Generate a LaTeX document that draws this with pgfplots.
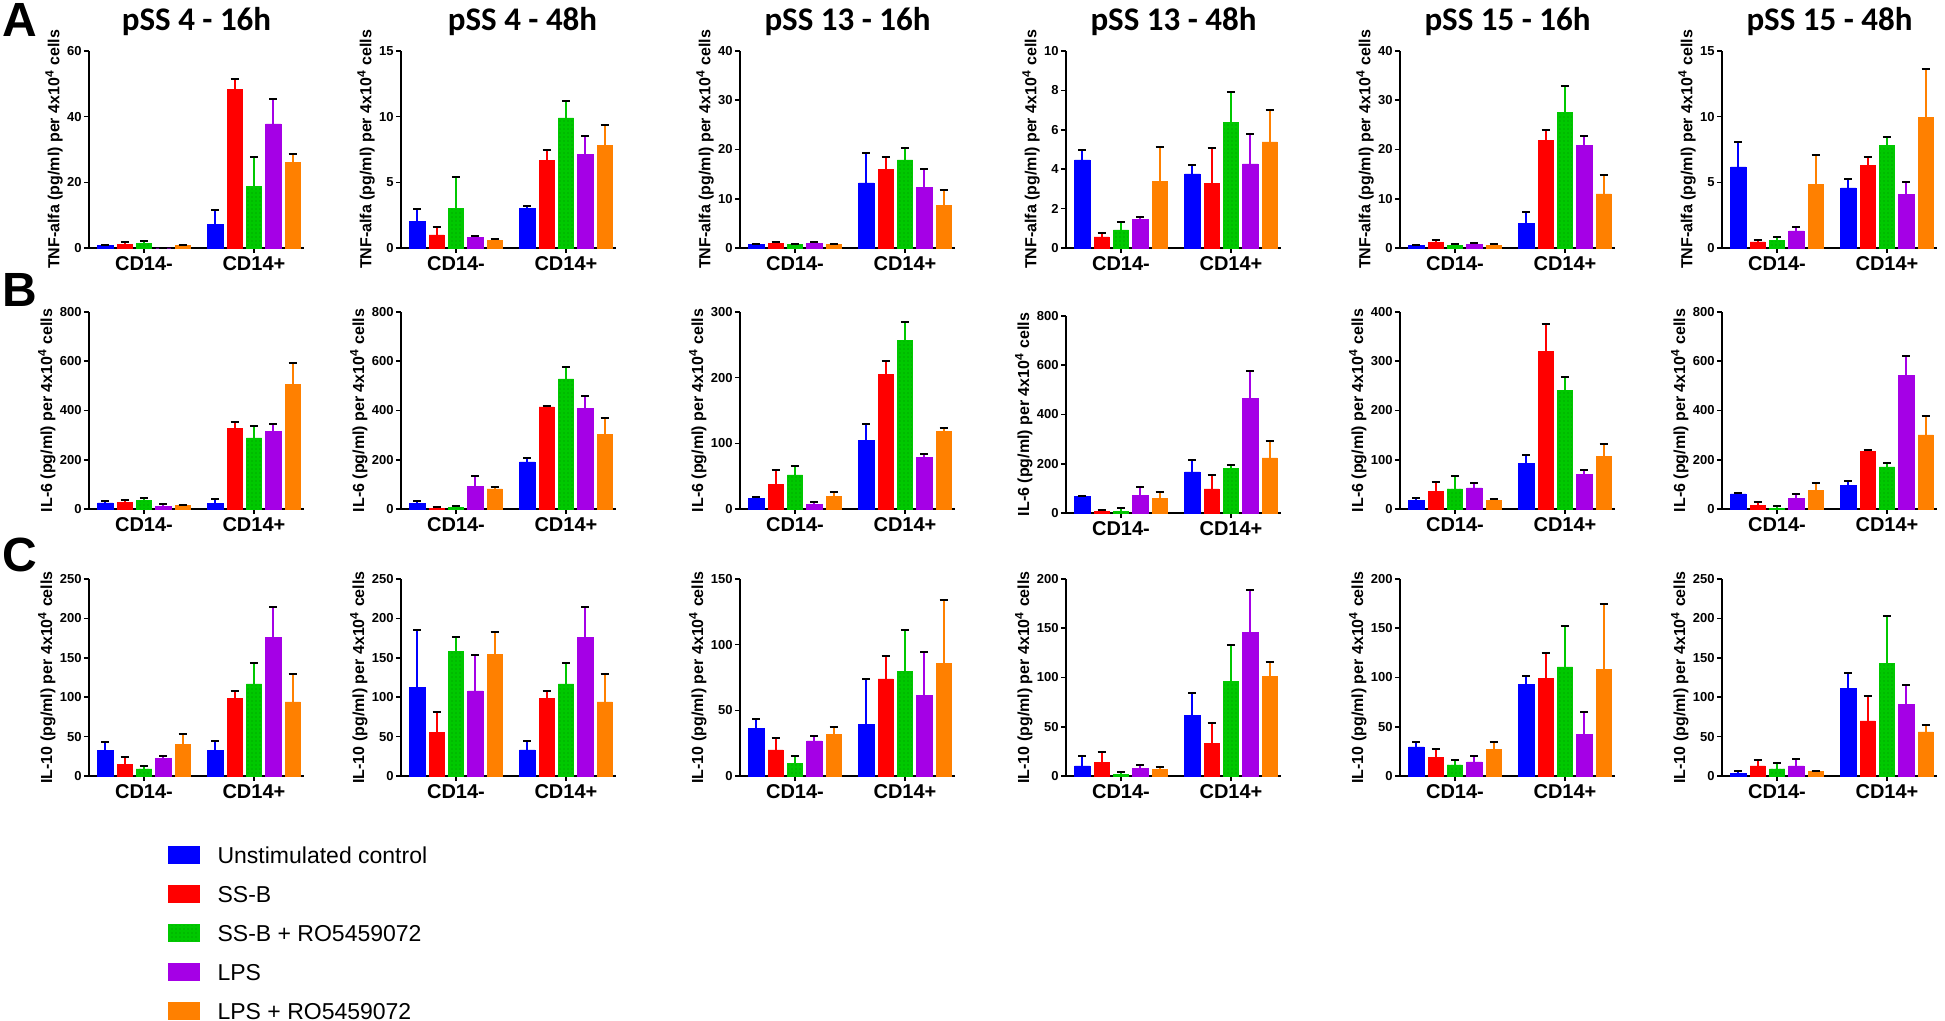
\documentclass[border=0pt]{standalone}
\usepackage{pgfplots}
\pgfplotsset{compat=1.18}
\usepackage{pgfplotstable}
\usetikzlibrary{patterns.meta}
\usepackage{fontspec}
\setmainfont{Liberation Sans}
\newfontfamily\titlefont{Carlito}

\definecolor{cB}{RGB}{0,0,255}
\definecolor{cR}{RGB}{255,0,0}
\definecolor{cG}{RGB}{0,200,0}
\definecolor{cGd}{RGB}{0,140,0}
\definecolor{cP}{RGB}{165,0,230}
\definecolor{cO}{RGB}{255,128,0}

\def\tnf{TNF-alfa (pg/ml) per 4x10\textsuperscript{4} cells}
\def\ilsix{IL-6 (pg/ml) per 4x10\textsuperscript{4} cells}
\def\ilten{IL-10 (pg/ml) per 4x10\textsuperscript{4} cells}

% ---------- data: g = group (0 CD14-, 1 CD14+), vN = mean, eN = upper error ----------
\pgfplotstableread{
g v1 e1 v2 e2 v3 e3 v4 e4 v5 e5
0 0.7 0.3 1.2 0.7 1.3 0.9 0 0 0.7 0.2
1 7.1 4.5 48.3 3.1 18.7 9.0 37.8 7.5 26.0 2.7
}\tAa
\pgfplotstableread{
g v1 e1 v2 e2 v3 e3 v4 e4 v5 e5
0 2.0 1.0 1.0 0.6 3.0 2.4 0.8 0.12 0.6 0.06
1 3.0 0.23 6.7 0.78 9.9 1.3 7.1 1.45 7.8 1.59
}\tAb
\pgfplotstableread{
g v1 e1 v2 e2 v3 e3 v4 e4 v5 e5
0 0.7 0.2 0.95 0.2 0.7 0.2 0.95 0.2 0.7 0.1
1 13.2 6.1 16.0 2.4 17.9 2.4 12.3 3.7 8.6 3.1
}\tAc
\pgfplotstableread{
g v1 e1 v2 e2 v3 e3 v4 e4 v5 e5
0 4.47 0.51 0.56 0.2 0.92 0.38 1.47 0.11 3.39 1.73
1 3.76 0.46 3.29 1.79 6.37 1.55 4.27 1.53 5.39 1.64
}\tAd
\pgfplotstableread{
g v1 e1 v2 e2 v3 e3 v4 e4 v5 e5
0 0.47 0.21 1.08 0.47 0.6 0.2 0.8 0.2 0.6 0.15
1 4.93 2.3 21.9 2.0 27.6 5.2 20.9 1.9 11.0 3.8
}\tAe
\pgfplotstableread{
g v1 e1 v2 e2 v3 e3 v4 e4 v5 e5
0 6.18 1.89 0.46 0.15 0.59 0.22 1.3 0.28 4.83 2.24
1 4.58 0.66 6.26 0.69 7.81 0.61 4.07 0.99 9.95 3.65
}\tAf
\pgfplotstableread{
g v1 e1 v2 e2 v3 e3 v4 e4 v5 e5
0 25 6 27 8 34 9 12 7 14 3
1 23 16 326 27 289 49 316 30 505 86
}\tBa
\pgfplotstableread{
g v1 e1 v2 e2 v3 e3 v4 e4 v5 e5
0 22 12 3 6 5 7 93 42 82 9
1 191 17 415 4 528 48 409 48 303 67
}\tBb
\pgfplotstableread{
g v1 e1 v2 e2 v3 e3 v4 e4 v5 e5
0 16 3 37 23 52 14 7 3 19 7
1 105 25 205 21 257 28 78 5 118 5
}\tBc
\pgfplotstableread{
g v1 e1 v2 e2 v3 e3 v4 e4 v5 e5
0 66 3 5 7 8 12 70 36 58 26
1 167 50 98 58 180 14 466 109 224 68
}\tBd
\pgfplotstableread{
g v1 e1 v2 e2 v3 e3 v4 e4 v5 e5
0 18 4 35 20 41 27 43 10 17 4
1 93 16 320 55 241 27 70 10 106 25
}\tBe
\pgfplotstableread{
g v1 e1 v2 e2 v3 e3 v4 e4 v5 e5
0 61 5 14 13 3 8 43 18 77 29
1 96 18 235 6 171 15 544 77 301 76
}\tBf
\pgfplotstableread{
g v1 e1 v2 e2 v3 e3 v4 e4 v5 e5
0 33 10 15 9 9 4 22 3 40 13
1 33 12 98 10 117 27 176 39 94 36
}\tCa
\pgfplotstableread{
g v1 e1 v2 e2 v3 e3 v4 e4 v5 e5
0 112 73 55 26 158 18 108 45 154 29
1 33 12 98 10 117 27 176 39 94 36
}\tCb
\pgfplotstableread{
g v1 e1 v2 e2 v3 e3 v4 e4 v5 e5
0 36.5 7.1 19.9 9.4 9.7 5.6 26.8 3.3 31.4 6.1
1 39.5 34 74 17 79.8 31.2 61.2 33.2 86 48
}\tCc
\pgfplotstableread{
g v1 e1 v2 e2 v3 e3 v4 e4 v5 e5
0 10.2 10.2 13.6 10.9 1.7 2.7 7.8 3.8 6.5 3.0
1 61.2 22.8 33 21 96.3 36.7 145.6 43.2 101 14.6
}\tCd
\pgfplotstableread{
g v1 e1 v2 e2 v3 e3 v4 e4 v5 e5
0 29.6 5.4 18.7 8.6 11.2 5.2 14.3 6.1 26.9 7.9
1 93 8.5 98.8 26.2 110.7 41.9 41.9 22.8 108 67
}\tCe
\pgfplotstableread{
g v1 e1 v2 e2 v3 e3 v4 e4 v5 e5
0 3.4 3 12.7 8.1 8.9 8.1 12.7 9.3 5.5 0.9
1 110.8 20.2 70 31 143 60 91 24.5 56 9
}\tCf

\pgfplotsset{
  panel/.style={
    scale only axis, width=107.5pt, height=98.5pt,
    xmin=-0.5, xmax=1.455, ymin=0,
    axis x line*=bottom, axis y line*=left,
    axis line style={line width=1pt, -},
    xtick={0,1}, xticklabels={CD14-,CD14+},
    tick align=outside, major tick length=2.5pt, minor tick num=0,
    tick style={line width=0.8pt, black},
    xticklabel style={font=\bfseries\fontsize{10}{12}\selectfont, inner sep=1.5pt},
    yticklabel style={font=\bfseries\fontsize{6.5}{7}\selectfont, inner sep=1pt},
    /pgf/number format/assume math mode=true,
    ylabel style={font=\bfseries\fontsize{8}{9}\selectfont, inner sep=1pt},
    title style={font=\titlefont\bfseries\fontsize{16.5}{18}\selectfont, at={(0.5,1)}, anchor=base, yshift=4pt},
    clip=false,
  },
  barbase/.style={ybar, bar width=0.138, bar shift=0, line width=0.3pt,
    error bars/.cd, y dir=plus, y explicit,
    error bar style={line width=1pt},
    error mark options={rotate=90, line width=1pt, mark size=2pt}},
  legimg/.style={legend image code/.code={\fill[##1] (0pt,-4.3pt) rectangle (15.5pt,4.3pt);}},
}

\newcommand{\bars}[1]{%
  \addplot[fill=cB, draw=cB, barbase] table[x expr=\thisrow{g}-0.352, y=v1, y error=e1]{#1};
  \addplot[fill=cR, draw=cR, barbase] table[x expr=\thisrow{g}-0.176, y=v2, y error=e2]{#1};
  \addplot[fill=cG, draw=cG, postaction={pattern={Dots[distance=2pt, radius=0.3pt]}, pattern color=cGd}, barbase] table[x expr=\thisrow{g}, y=v3, y error=e3]{#1};
  \addplot[fill=cP, draw=cP, barbase] table[x expr=\thisrow{g}+0.176, y=v4, y error=e4]{#1};
  \addplot[fill=cO, draw=cO, barbase] table[x expr=\thisrow{g}+0.352, y=v5, y error=e5]{#1};
}

\newcommand{\panel}[7]{%
  \begin{axis}[panel, at={(#1pt,-#2pt)}, anchor=south west, ymax=#3, ytick={#4}, ylabel={#5}, #7]
  \bars{#6}
  \end{axis}}

\begin{document}
\begin{tikzpicture}
\useasboundingbox (0pt,0pt) rectangle (972.5pt,-510.5pt);

% Row A
\panel{44.5}{124}{60}{0,20,40,60}{\tnf}{\tAa}{title={pSS 4 - 16h}}
\panel{200.5}{124}{15}{0,5,10,15}{\tnf}{\tAb}{title={pSS 4 - 48h}, title style={xshift=7pt}}
\panel{370}{124}{40}{0,10,20,30,40}{\tnf}{\tAc}{title={pSS 13 - 16h}}
\panel{533}{124}{10}{0,2,4,6,8,10}{\tnf}{\tAd}{title={pSS 13 - 48h}}
\panel{700}{124}{40}{0,10,20,30,40}{\tnf}{\tAe}{title={pSS 15 - 16h}}
\panel{861}{124}{15}{0,5,10,15}{\tnf}{\tAf}{title={pSS 15 - 48h}}

% Row B
\panel{44.5}{254.5}{800}{0,200,400,600,800}{\ilsix}{\tBa}{}
\panel{200.5}{254.5}{800}{0,200,400,600,800}{\ilsix}{\tBb}{}
\panel{370}{254.5}{300}{0,100,200,300}{\ilsix}{\tBc}{}
\panel{533}{256.5}{800}{0,200,400,600,800}{\ilsix}{\tBd}{}
\panel{700}{254.5}{400}{0,100,200,300,400}{\ilsix}{\tBe}{}
\panel{861}{254.5}{800}{0,200,400,600,800}{\ilsix}{\tBf}{}

% Row C
\panel{44.5}{388}{250}{0,50,100,150,200,250}{\ilten}{\tCa}{legimg,
  legend entries={Unstimulated control,SS-B,SS-B + RO5459072,LPS,LPS + RO5459072},
  legend cell align=left,
  legend style={at={(axis description cs:0.3674,-0.3503)}, anchor=north west, draw=none, fill=none,
    inner sep=0pt, outer sep=0pt, row sep=9.5pt, column sep=9pt,
    nodes={inner sep=0pt, text height=9pt, text depth=1pt, font=\fontsize{11.5}{13}\selectfont}}}
\panel{200.5}{388}{250}{0,50,100,150,200,250}{\ilten}{\tCb}{}
\panel{370}{388}{150}{0,50,100,150}{\ilten}{\tCc}{}
\panel{533}{388}{200}{0,50,100,150,200}{\ilten}{\tCd}{}
\panel{700}{388}{200}{0,50,100,150,200}{\ilten}{\tCe}{}
\panel{861}{388}{250}{0,50,100,150,200,250}{\ilten}{\tCf}{}

% Row letters
\node[anchor=base west, inner sep=0pt, font=\bfseries\fontsize{24}{24}\selectfont] at (1pt,-18.5pt) {A};
\node[anchor=base west, inner sep=0pt, font=\bfseries\fontsize{24}{24}\selectfont] at (1pt,-153.5pt) {B};
\node[anchor=base west, inner sep=0pt, font=\bfseries\fontsize{24}{24}\selectfont] at (1pt,-286pt) {C};
\end{tikzpicture}
\end{document}
